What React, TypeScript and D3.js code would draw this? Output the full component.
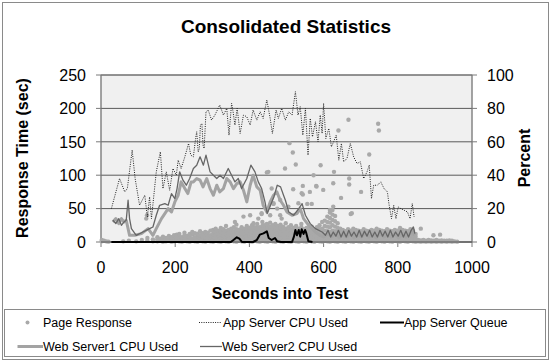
import React from "react";
import * as d3 from "d3";

// ---------- data ----------
const xTicks = [0, 200, 400, 600, 800, 1000];
const yLeftTicks = [0, 50, 100, 150, 200, 250];
const yRightTicks = [0, 20, 40, 60, 80, 100];

// Page Response (sec) – dense band: time columns and values at each
const bandSec = [2, 8, 14, 20, 60, 75, 95, 110, 125, 140,
  152, 160, 167, 175, 183, 190, 197,
  204, 211, 218, 225, 232, 239, 246, 253, 260, 267, 274, 281, 288, 295,
  302, 309, 316, 323, 330, 337, 344, 351, 358, 365, 372, 379, 386, 393, 400, 407, 414, 421, 428, 435, 442,
  449, 456, 463, 470, 477, 484, 491, 498, 505, 512, 519, 526, 533, 540, 547, 554, 561, 568, 575, 582, 589, 596,
  603, 610, 617, 624, 631, 638,
  645, 652, 659, 666, 673, 680, 687, 694, 701, 708, 715, 722, 729, 736, 743, 750, 757, 764, 771, 778, 785, 792, 799, 806, 813, 820, 827, 834, 841, 848,
  855, 862, 869, 876, 883, 890, 897, 904, 911, 918, 925, 932, 939, 946, 953, 960];
const bandVal: number[][] = [
  [1, 3], [2], [1], [0.5], [1], [2], [1], [3], [2, 6], [1, 4],
  [1, 4, 7], [2, 5], [0.5, 3, 8], [1, 6], [2, 4, 9], [0.5, 3, 7], [1, 5, 10],
  [2, 6, 11], [1, 4, 8, 12], [0.5, 3, 7], [2, 5, 10, 14], [1, 6, 9], [0.5, 3, 8, 12], [2, 5, 11, 15], [1, 4, 7, 13], [0.5, 3, 9, 12], [2, 6, 10, 16], [1, 4, 8, 13], [0.5, 3, 7, 11, 15], [2, 5, 9, 14], [1, 6, 10, 17],
  [0.5, 4, 8, 12, 18], [2, 6, 10, 15, 20], [1, 5, 9, 13, 17], [0.5, 3, 7, 11, 16, 21], [2, 6, 10, 14, 19], [1, 4, 8, 12, 17, 24], [0.5, 5, 9, 13, 18], [2, 6, 11, 15, 20], [1, 4, 8, 12, 16, 22], [0.5, 3, 7, 11, 15, 19, 26], [2, 6, 10, 14, 18], [1, 5, 9, 13, 17, 22], [0.5, 4, 8, 12, 16, 20], [2, 6, 10, 14, 19, 24], [1, 5, 9, 13, 17, 21], [0.5, 3, 7, 11, 15, 20, 25], [2, 6, 10, 14, 18, 22], [1, 4, 8, 12, 16, 21, 27], [0.5, 5, 9, 13, 17, 22], [2, 6, 10, 14, 19, 24, 30], [1, 4, 8, 12, 16, 20, 25],
  [0.5, 5, 9, 13, 17, 21, 26], [2, 6, 10, 14, 18, 23, 29], [1, 4, 8, 12, 16, 20, 25], [0.5, 5, 9, 13, 17, 22, 27], [2, 6, 10, 14, 19, 24], [1, 4, 8, 12, 16, 21, 26], [0.5, 5, 9, 13, 18, 23], [2, 6, 10, 15, 20, 28], [1, 4, 8, 12, 17, 22], [0.5, 5, 9, 14, 19, 25], [2, 6, 11, 16, 21], [1, 4, 8, 13, 18, 24], [0.5, 5, 10, 15, 20], [2, 6, 11, 16, 22, 27], [1, 4, 9, 14, 19], [0.5, 5, 10, 15, 21], [2, 6, 11, 16, 20], [1, 4, 9, 14, 18, 23], [0.5, 5, 10, 15, 19], [2, 6, 11, 16, 22], [1, 4, 9, 14, 19, 25], [0.5, 5, 10, 15, 20, 30],
  [2, 6, 11, 17, 24, 32], [1, 5, 10, 16, 23, 30, 38], [0.5, 4, 9, 15, 22, 29, 36, 44], [2, 6, 11, 17, 25, 33, 41, 48], [1, 5, 10, 16, 23, 31, 39], [0.5, 4, 9, 15, 21, 28],
  [2, 6, 10, 15, 20], [1, 5, 9, 13, 18], [0.5, 4, 8, 12, 16], [2, 6, 10, 14, 19], [1, 5, 9, 13, 17], [0.5, 4, 8, 12, 16, 20], [2, 6, 10, 14, 18], [1, 5, 9, 13, 17], [0.5, 4, 8, 12, 16], [2, 6, 10, 14, 19], [1, 5, 9, 13, 17], [0.5, 4, 8, 12, 16], [2, 6, 10, 14, 18], [1, 5, 9, 13, 17], [0.5, 4, 8, 12, 16, 20], [2, 6, 10, 14, 18], [1, 5, 9, 13, 17], [0.5, 4, 8, 12, 16], [2, 6, 10, 14, 19], [1, 5, 9, 13, 17], [0.5, 4, 8, 12, 16], [2, 6, 10, 14, 18], [1, 5, 9, 13, 17], [0.5, 4, 8, 12, 16, 21], [2, 6, 10, 14, 18], [1, 5, 9, 13, 17], [0.5, 4, 8, 12, 16], [2, 6, 10, 14, 19], [1, 5, 9, 13, 17], [0.5, 4, 8, 12],
  [1, 3], [0.5, 2.5], [1, 3], [0.5, 2], [1, 3], [0.5, 2.5], [1, 2], [0.5, 3], [1, 2], [0.5, 2.5], [1, 2], [0.5, 2], [1, 2.5], [0.5, 2], [1], [0.5]];

// Page Response outliers
const outSec = [122, 124, 447, 451, 424, 433, 447, 460, 465, 475, 483, 487, 406, 496, 508, 517, 525, 592, 573, 544, 518, 626, 669, 669, 723, 628, 580, 563, 599, 544, 647, 701, 673, 556, 568, 626, 667, 747, 749, 640, 862, 896, 914, 361, 384, 402, 433, 456, 411, 483, 465, 505, 532, 581, 541, 617, 676];
const outVal = [35, 40, 104, 105, 35, 42, 27, 80, 57, 50, 40, 35, 20, 110, 148, 134, 116, 115, 100, 84, 79, 88, 95, 86, 131, 105, 84, 75, 78, 71, 66, 75, 42, 57, 57, 53, 183, 177, 167, 167, 20, 10, 11, 30, 38, 40, 43, 40, 28, 63, 58, 53, 58, 83, 73, 48, 43];

// App Server CPU Used (percent)
const cpuSec = [28, 50, 64, 71, 84, 92, 104, 118, 125, 131, 136, 149, 160, 167, 176, 185, 194, 203, 208, 216, 226, 236, 242, 249, 255, 258, 262, 265, 268, 272, 275, 278, 283, 289, 298, 307, 320, 330, 339, 345, 352, 356, 361, 367, 375, 384, 393, 402, 410, 420, 429, 437, 447, 456, 462, 472, 478, 487, 497, 506, 515, 524, 531, 537, 544, 551, 558, 564, 570, 578, 585, 591, 596, 600, 606, 614, 621, 627, 634, 641, 648, 654, 663, 672, 681, 690, 699, 708, 717, 723, 729, 735, 745, 754, 763, 772, 776, 783, 789, 795, 801, 808, 817, 826, 833, 839, 844];
const cpuPct = [20, 38, 30, 32, 55, 38, 22, 28, 15, 27, 14, 42, 54, 32, 42, 31, 44, 40, 49, 44, 51, 59, 52, 51, 62, 66, 54, 56, 70, 71, 58, 56, 78, 79, 73, 76, 82, 76, 80, 64, 83, 78, 70, 80, 65, 76, 75, 70, 79, 73, 78, 74, 85, 74, 65, 79, 74, 80, 73, 78, 76, 90, 76, 81, 64, 80, 52, 74, 63, 72, 60, 76, 65, 83, 62, 68, 57, 60, 64, 49, 59, 48, 50, 59, 51, 47, 48, 38, 42, 46, 26, 34, 34, 36, 32, 30, 23, 14, 22, 14, 21, 20, 19, 18, 14, 23, 15];

// App Server Queue (sec axis)
const queueSec = [28, 60, 100, 150, 200, 250, 300, 350, 357, 366, 373, 380, 390, 410, 420, 428, 438, 447, 452, 460, 469, 475, 485, 500, 515, 520, 524, 528, 533, 537, 541, 546, 550, 553, 559, 570];
const queueVal = [0, 0, 0, 0, 0, 0, 0, 0, 3, 7, 5, 0, 0, 0, 3, 11, 13, 16, 6, 3, 6, 1, 0, 0, 0, 8, 18, 10, 18, 8, 19, 12, 18, 14, 1, 0];

// Web Server1 CPU Used (percent)
const ws1Sec = [32, 40, 48, 55, 62, 68, 77, 91, 109, 127, 140, 149, 163, 172, 181, 190, 199, 208, 216, 226, 234, 243, 249, 258, 267, 275, 285, 294, 303, 312, 320, 330, 339, 348, 357, 366, 375, 384, 393, 402, 410, 420, 429, 437, 447, 456, 465, 474, 483, 492, 501, 515, 528, 537, 546, 560, 578, 590, 600, 612, 622, 632, 642, 652, 662, 672, 682, 692, 702, 712, 722, 732, 742, 752, 762, 772, 782, 792, 802, 812, 822, 832, 840, 845];
const ws1Pct = [12, 14, 11, 14, 12, 13, 4, 4, 5, 8, 4, 8, 14, 17, 20, 18, 24, 28, 36, 32, 29, 36, 36, 38, 37, 33, 38, 32, 28, 34, 30, 32, 38, 36, 32, 35, 36, 31, 24, 34, 40, 33, 31, 22, 18, 24, 28, 30, 25, 22, 18, 16, 17, 20, 14, 10, 6, 4, 3, 5, 3, 5, 2.5, 4.5, 3, 5, 2.5, 4.5, 3, 5, 3, 4.5, 2.5, 5, 3, 4.5, 3, 5, 2.5, 4.5, 3, 5, 7, 4];

// Web Server2 CPU Used (percent)
const ws2Sec = [32, 40, 48, 55, 62, 68, 73, 77, 82, 95, 113, 131, 140, 149, 158, 172, 181, 190, 199, 205, 212, 221, 230, 239, 249, 258, 267, 276, 283, 294, 303, 312, 321, 330, 343, 352, 361, 370, 379, 393, 404, 415, 424, 433, 442, 448, 457, 466, 475, 484, 492, 497, 506, 519, 533, 542, 551, 564, 578, 596, 605, 612, 619, 626, 633, 640, 647, 654, 661, 668, 675, 682, 689, 696, 703, 710, 717, 724, 731, 738, 745, 752, 759, 766, 773, 780, 787, 794, 801, 808, 815, 822, 829, 836, 842, 846];
const ws2Pct = [13, 11, 14, 10, 12, 13, 25, 14, 8, 4, 6, 8, 9, 16, 22, 23, 22, 29, 26, 32, 42, 37, 34, 38, 44, 46, 51, 46, 52, 42, 40, 38, 40, 38, 44, 40, 36, 38, 32, 38, 46, 42, 36, 32, 24, 17, 22, 27, 34, 33, 28, 25, 18, 16, 20, 23, 16, 11, 8, 6, 4, 7, 3, 6, 3.5, 7, 3, 6.5, 3, 7, 3.5, 6, 3, 7, 3, 6.5, 3.5, 7, 3, 6, 3, 7, 3.5, 6.5, 3, 7, 3, 6, 3.5, 7, 3, 6.5, 3, 7, 9, 5];

const FONT = "'Liberation Sans', Arial, sans-serif";

export default function App() {
  const x = d3.scaleLinear().domain([0, 1000]).range([101, 472]);
  const yL = d3.scaleLinear().domain([0, 250]).range([242, 75]);
  const yR = d3.scaleLinear().domain([0, 100]).range([242, 75]);

  const pts: [number, number][] = [];
  bandSec.forEach((s, i) => bandVal[i].forEach((v) => pts.push([s, v])));
  outSec.forEach((s, i) => pts.push([s, outVal[i]]));

  const lineR = d3.line<[number, number]>().x((d) => x(d[0])).y((d) => yR(d[1]));
  const lineL = d3.line<[number, number]>().x((d) => x(d[0])).y((d) => yL(d[1]));
  const zip = (a: number[], b: number[]) => a.map((s, i) => [s, b[i]] as [number, number]);

  const dotColor = "#a9a9a9";
  const ws1Color = "#a3a3a3";
  const ws2Color = "#666666";

  return (
    <svg width={552} height={362} style={{ position: "absolute", left: 0, top: 0, background: "#fff" }} fontFamily={FONT}>
      <rect x={2.5} y={2.5} width={546} height={357} fill="#fff" stroke="#8a8a8a" />
      <text x={286} y={33} textAnchor="middle" fontSize={19} fontWeight="bold">Consolidated Statistics</text>

      {/* plot area */}
      <rect x={101} y={75} width={371} height={167} fill="#f0f0f0" stroke="#9a9a9a" />
      {yLeftTicks.map((t) => (
        <line key={"g" + t} x1={101} x2={472} y1={yL(t)} y2={yL(t)} stroke="#5a5a5a" strokeWidth={1} />
      ))}
      <line x1={101} x2={101} y1={75} y2={242} stroke="#7a7a7a" />
      <line x1={472} x2={472} y1={75} y2={242} stroke="#7a7a7a" />
      {yLeftTicks.map((t) => (
        <line key={"lt" + t} x1={96} x2={101} y1={yL(t)} y2={yL(t)} stroke="#7a7a7a" />
      ))}
      {yRightTicks.map((t) => (
        <line key={"rt" + t} x1={472} x2={477} y1={yR(t)} y2={yR(t)} stroke="#7a7a7a" />
      ))}
      {xTicks.map((t) => (
        <line key={"xt" + t} x1={x(t)} x2={x(t)} y1={242} y2={247} stroke="#7a7a7a" />
      ))}

      {/* series */}
      {pts.map((p, i) => (
        <circle key={"p" + i} cx={x(p[0])} cy={yL(p[1])} r={2.2} fill={dotColor} />
      ))}
      <path d={lineR(zip(cpuSec, cpuPct)) || ""} fill="none" stroke="#222" strokeWidth={1} strokeDasharray="1,1.3" />
      <path d={lineR(zip(ws1Sec, ws1Pct)) || ""} fill="none" stroke={ws1Color} strokeWidth={3} strokeLinejoin="round" />
      <path d={lineR(zip(ws2Sec, ws2Pct)) || ""} fill="none" stroke={ws2Color} strokeWidth={1.3} strokeLinejoin="round" />
      <line x1={101} x2={472} y1={242} y2={242} stroke="#555" />
      <path d={lineL(zip(queueSec, queueVal)) || ""} fill="none" stroke="#000" strokeWidth={2} strokeLinejoin="round" />

      {/* tick labels */}
      {yLeftTicks.map((t) => (
        <text key={"ll" + t} x={86} y={yL(t)} dy="0.36em" textAnchor="end" fontSize={16}>{t}</text>
      ))}
      {yRightTicks.map((t) => (
        <text key={"rl" + t} x={487} y={yR(t)} dy="0.36em" textAnchor="start" fontSize={16}>{t}</text>
      ))}
      {xTicks.map((t) => (
        <text key={"xl" + t} x={x(t)} y={273} textAnchor="middle" fontSize={16}>{t}</text>
      ))}

      {/* axis titles */}
      <text x={280} y={299} textAnchor="middle" fontSize={16} fontWeight="bold">Seconds into Test</text>
      <text transform="translate(28,158) rotate(-90)" textAnchor="middle" fontSize={16} fontWeight="bold">Response Time (sec)</text>
      <text transform="translate(530,158) rotate(-90)" textAnchor="middle" fontSize={16} fontWeight="bold">Percent</text>

      {/* legend */}
      <rect x={4.5} y={309.5} width={541} height={47} fill="#fff" stroke="#8a8a8a" />
      <circle cx={27.5} cy={322.5} r={2} fill={dotColor} />
      <text x={43} y={327} fontSize={12.5}>Page Response</text>
      <line x1={199} x2={222} y1={322.5} y2={322.5} stroke="#222" strokeWidth={1} strokeDasharray="1,1.3" />
      <text x={223} y={327} fontSize={12.5}>App Server CPU Used</text>
      <line x1={380} x2={404} y1={322.5} y2={322.5} stroke="#000" strokeWidth={2} />
      <text x={404} y={327} fontSize={12.5}>App Server Queue</text>
      <line x1={17.5} x2={43} y1={346.5} y2={346.5} stroke={ws1Color} strokeWidth={3} />
      <text x={43} y={351} fontSize={12.5}>Web Server1 CPU Used</text>
      <line x1={200} x2={222} y1={346.5} y2={346.5} stroke={ws2Color} strokeWidth={1.3} />
      <text x={222} y={351} fontSize={12.5}>Web Server2 CPU Used</text>
    </svg>
  );
}
